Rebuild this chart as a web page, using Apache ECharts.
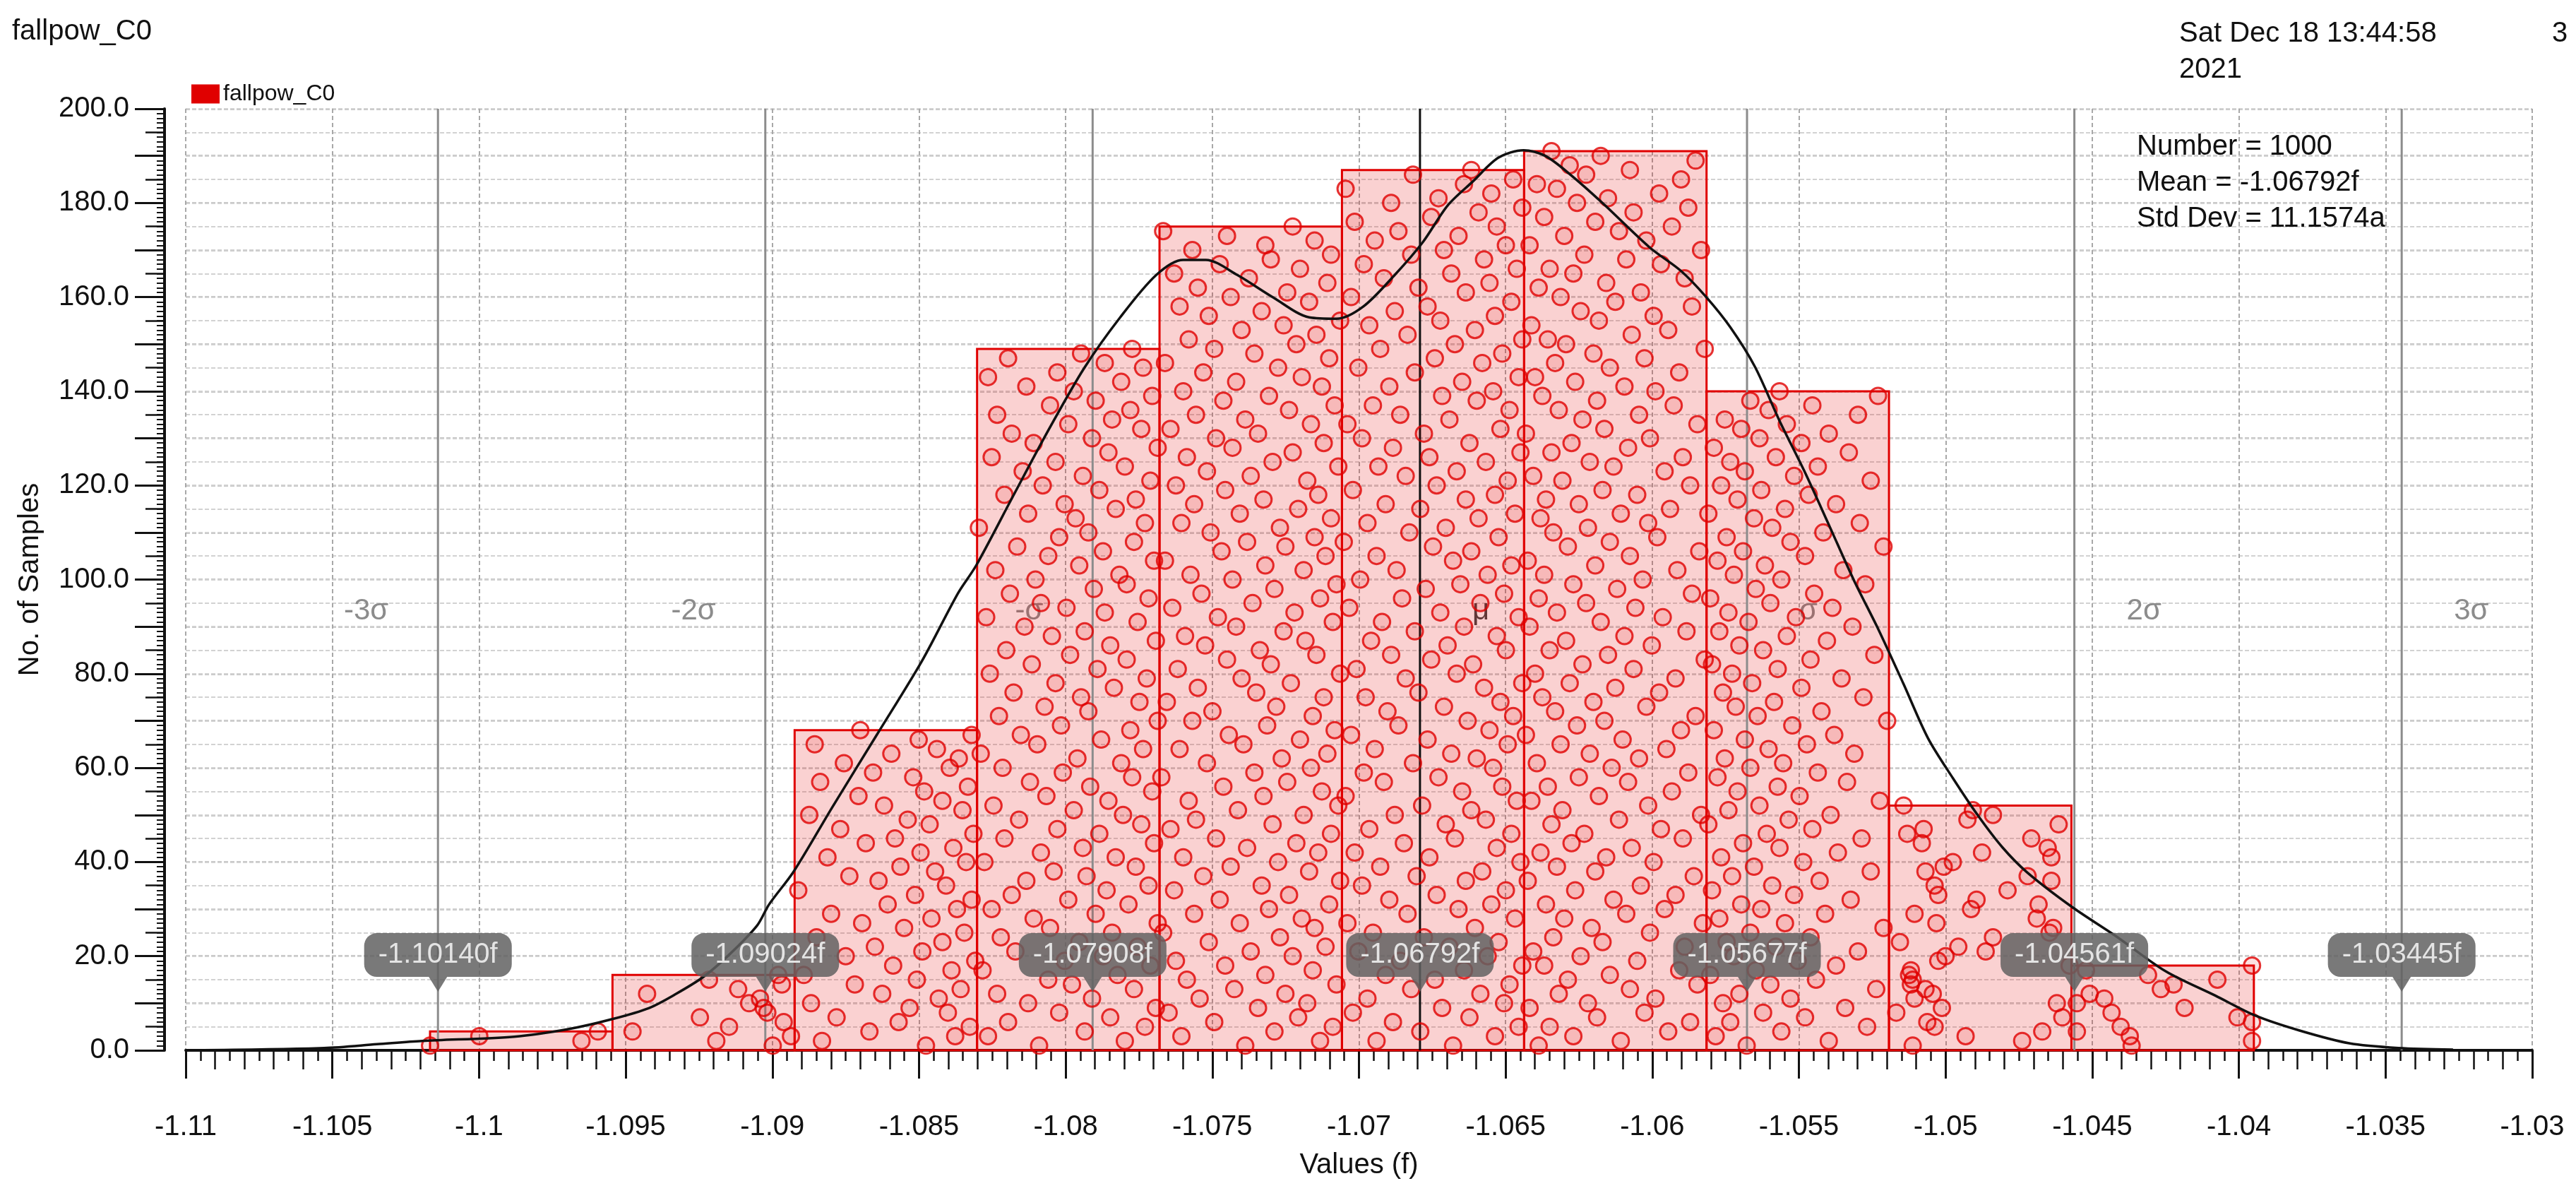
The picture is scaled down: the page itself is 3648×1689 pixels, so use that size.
<!DOCTYPE html>
<html>
<head>
<meta charset="utf-8">
<title>fallpow_C0</title>
<script src="https://cdn.jsdelivr.net/npm/echarts@6.0.0/dist/echarts.min.js"></script>
<style>
  html, body { margin: 0; padding: 0; background: #fff; }
  #chart { width: 3648px; height: 1689px; }
</style>
</head>
<body>
<div id="chart"></div>
<script>
// ---- data ----
const binEdges = [-1.10167, -1.09545, -1.08924, -1.08302, -1.07680, -1.07058,
  -1.06437, -1.05815, -1.05193, -1.04571, -1.03949]
const binCounts = [4, 16, 68, 149, 175, 187, 191, 140, 52, 18]

// sample positions inside each bin (percent of bin width), listed by rank 1..N (rank = y)
const bin1Frac = [0, 83, 27, 92]
const bin2Frac = [88, 57, 98, 11, 64, 94, 48, 85, 83, 75, 81, 19, 69, 93, 53, 91]
const bin3Frac = [72, 15, 88, 41, 96, 57, 23, 84, 63, 9, 79, 48, 91, 33, 67, 5, 86, 54, 99, 28,
  70, 44, 81, 12, 93, 60, 37, 75, 20, 89, 51, 97, 66, 2, 83, 46, 30, 77, 58, 94,
  18, 69, 87, 39, 55, 98, 25, 74, 62, 8, 92, 49, 81, 35, 71, 95, 14, 65, 43, 85,
  27, 90, 53, 78, 11, 68, 97, 36]
const bin4Frac = [34, 81, 6, 59, 92, 17, 73, 45, 98, 28, 63, 11, 86, 52, 39, 77, 3, 95, 48, 69,
  21, 88, 56, 13, 74, 40, 99, 31, 65, 8, 83, 50, 19, 71, 94, 27, 60, 42, 87, 4,
  76, 35, 58, 97, 15, 67, 44, 90, 23, 80, 53, 9, 72, 38, 96, 62, 29, 85, 47, 14,
  79, 55, 2, 91, 33, 68, 24, 84, 46, 99, 12, 61, 37, 89, 57, 20, 75, 43, 93, 7,
  66, 30, 82, 51, 16, 73, 98, 41, 59, 26, 88, 5, 70, 49, 35, 94, 18, 64, 82, 32,
  78, 10, 56, 97, 39, 69, 22, 86, 45, 61, 1, 92, 54, 28, 76, 48, 87, 15, 67, 36,
  95, 58, 25, 81, 43, 8, 72, 99, 31, 63, 19, 90, 50, 74, 11, 84, 40, 65, 96,
  53, 27, 79, 6, 44, 91, 70, 17, 57, 85]
const bin5Frac = [47, 88, 12, 63, 95, 30, 76, 5, 54, 81, 22, 69, 41, 97, 15, 58, 84, 36, 9, 73,
  50, 91, 27, 66, 2, 85, 44, 78, 19, 60, 93, 33, 71, 8, 56, 99, 24, 82, 39, 65,
  13, 87, 48, 75, 31, 94, 6, 62, 20, 79, 43, 98, 16, 57, 89, 35, 70, 1, 52, 83,
  26, 67, 92, 11, 46, 77, 38, 96, 59, 18, 84, 29, 64, 4, 90, 53, 21, 72, 45, 99,
  10, 61, 37, 86, 55, 25, 80, 14, 68, 42, 95, 32, 74, 7, 51, 88, 23, 63, 97, 40,
  17, 79, 58, 3, 91, 34, 69, 48, 85, 28, 66, 12, 94, 44, 76, 19, 57, 87, 36, 9,
  81, 50, 26, 98, 62, 15, 73, 40, 90, 31, 54, 6, 83, 47, 20, 71, 96, 35, 60, 13,
  89, 42, 78, 24, 65, 3, 93, 52, 30, 75, 16, 86, 45, 68, 99, 27, 56, 11, 82, 39,
  70, 21, 92, 49, 8, 77, 33, 61, 94, 18, 58, 85, 37, 2, 73]
const bin6Frac = [61, 19, 84, 43, 97, 28, 70, 6, 55, 89, 14, 76, 38, 92, 51, 24, 67, 99, 32, 80,
  9, 59, 86, 45, 17, 73, 3, 95, 36, 64, 82, 26, 52, 90, 11, 68, 41, 77, 21, 98,
  48, 7, 85, 34, 62, 93, 15, 57, 79, 29, 71, 44, 96, 2, 66, 88, 23, 53, 12, 83,
  39, 74, 60, 18, 91, 47, 5, 81, 31, 69, 94, 25, 56, 87, 13, 42, 78, 99, 35, 63,
  8, 72, 49, 27, 90, 58, 16, 85, 40, 67, 22, 97, 54, 4, 76, 33, 89, 46, 65, 10,
  80, 30, 93, 61, 19, 71, 50, 1, 86, 37, 57, 14, 75, 95, 43, 24, 68, 84, 6, 52,
  91, 35, 63, 20, 79, 48, 98, 28, 70, 11, 45, 87, 3, 59, 32, 92, 17, 74, 55, 83,
  26, 66, 97, 40, 9, 77, 51, 88, 21, 62, 99, 36, 73, 15, 54, 84, 29, 47, 93, 5,
  68, 42, 81, 23, 60, 96, 12, 78, 38, 56, 90, 18, 64, 31, 85, 7, 49, 75, 99, 27,
  53, 82, 2, 67, 94, 39, 71]
const bin7Frac = [8, 53, 27, 79, 14, 91, 40, 66, 3, 35, 72, 19, 58, 95, 24, 47, 85, 11, 62, 31,
  5, 88, 43, 16, 69, 37, 98, 22, 56, 77, 12, 49, 83, 28, 64, 2, 93, 39, 18, 71,
  45, 9, 59, 26, 87, 33, 75, 15, 52, 97, 21, 68, 4, 41, 81, 13, 57, 30, 90, 48,
  7, 63, 36, 78, 20, 54, 1, 86, 29, 44, 94, 17, 67, 38, 10, 74, 50, 25, 83, 6,
  60, 32, 99, 46, 14, 70, 23, 55, 89, 3, 42, 76, 18, 61, 34, 8, 92, 51, 27, 65,
  11, 84, 39, 2, 58, 96, 24, 47, 73, 16, 35, 68, 9, 53, 80, 30, 12, 62, 43, 91,
  21, 5, 77, 49, 36, 87, 15, 57, 26, 69, 1, 44, 95, 32, 63, 19, 82, 40, 10, 72,
  55, 28, 6, 85, 47, 17, 66, 38, 99, 23, 13, 59, 79, 4, 41, 71, 31, 92, 50, 20,
  64, 8, 45, 88, 27, 14, 75, 56, 33, 97, 3, 67, 22, 52, 81, 39, 11, 60, 90, 29,
  46, 74, 18, 7, 86, 34, 58, 25, 94, 42, 15]
const bin8Frac = [22, 67, 5, 41, 88, 13, 54, 31, 76, 9, 46, 18, 93, 35, 60, 2, 27, 71, 50, 15,
  83, 38, 11, 57, 24, 97, 43, 7, 65, 30, 19, 79, 48, 3, 36, 62, 14, 90, 26, 53,
  8, 72, 40, 20, 85, 33, 58, 1, 45, 68, 12, 29, 95, 51, 17, 39, 77, 6, 61, 24,
  42, 10, 81, 34, 55, 21, 70, 4, 47, 99, 28, 63, 16, 37, 86, 9, 52, 25, 74, 14,
  39, 3, 57, 92, 31, 18, 66, 44, 7, 80, 23, 49, 12, 69, 35, 2, 59, 27, 87, 41,
  15, 75, 32, 6, 54, 20, 97, 46, 11, 64, 36, 84, 26, 1, 43, 71, 17, 56, 30, 8,
  90, 48, 21, 61, 13, 38, 78, 4, 52, 29, 67, 19, 44, 10, 83, 34, 58, 24, 94, 40]
const bin9Frac = [13, 73, 42, 84, 25, 21, 95, 4, 29, 92, 14, 24, 20, 12, 13, 11, 12, 99, 27, 31,
  53, 38, 6, 57, 88, 90, 26, 81, 14, 45, 82, 48, 27, 65, 25, 89, 76, 20, 30, 35,
  89, 51, 87, 18, 78, 10, 19, 93, 43, 57, 46, 8]
const bin10Frac = [33, 99, 32, 3, 27, 99, 91, 22, 62, 3, 18, 10, 49, 56, 80, 42, 8, 99]

// fitted density curve
const curveX = [-1.10939, -1.10528, -1.10348, -1.10194, -1.0988, -1.09696, -1.09548, -1.0942,
  -1.09328, -1.09235, -1.09144, -1.09052, -1.09011, -1.08927, -1.08796, -1.08643, -1.0849,
  -1.08367, -1.08305, -1.08182, -1.08059, -1.07937, -1.07814, -1.07691, -1.07599, -1.07522,
  -1.07415, -1.07292, -1.0717, -1.07077, -1.06985, -1.06878, -1.06783, -1.06697, -1.06611,
  -1.06525, -1.06439, -1.06365, -1.06279, -1.0617, -1.0601, -1.05903, -1.05816, -1.05734,
  -1.0565, -1.05566, -1.05482, -1.05397, -1.05313, -1.05229, -1.05144, -1.0506, -1.04975,
  -1.04891, -1.04806, -1.04722, -1.0457, -1.04418, -1.0425, -1.0408, -1.03945, -1.03793,
  -1.03624, -1.03456, -1.0327]
const curveY = [0.05, 0.5, 1.3, 2.0, 2.9, 4.5, 6.6, 9, 12, 15.6, 20.5, 26.5, 31, 38, 51.6, 67.1,
  82.7, 97.1, 103, 117.4, 131.7, 144.9, 155.7, 164.7, 167.9, 167.9, 164.7, 159.9, 155.7, 155.4,
  158, 164.7, 171.6, 179.5, 184.6, 189.6, 191.2, 190, 186, 180, 170.6, 165.6, 160, 153.6, 145.2,
  133.7, 123.1, 111.5, 99.9, 89.4, 77.9, 66.3, 57.8, 50, 43.1, 37.8, 30.5, 24.2, 16.8, 11.6, 7.4,
  4.2, 1.5, 0.5, 0.15]

// sigma markers
const sigmaValues = [-1.10140, -1.09024, -1.07908, -1.06792, -1.05677, -1.04561, -1.03445]
const sigmaNames = ['-3σ', '-2σ', '-σ', 'μ', 'σ', '2σ', '3σ']
const sigmaTexts = ['-1.10140f', '-1.09024f', '-1.07908f', '-1.06792f', '-1.05677f', '-1.04561f', '-1.03445f']
const meanIndex = 3

const statsLines = ['Number = 1000', 'Mean = -1.06792f', 'Std Dev = 11.1574a']

// ---- build ----
const FONT = '"Liberation Sans", Arial, sans-serif'
const binFracs = [bin1Frac, bin2Frac, bin3Frac, bin4Frac, bin5Frac, bin6Frac, bin7Frac, bin8Frac, bin9Frac, bin10Frac]

const histData = binCounts.map((c, i) => [binEdges[i], binEdges[i + 1], c])
const points = []
binFracs.forEach((fr, b) => {
  const x0 = binEdges[b]
  const w = binEdges[b + 1] - x0
  fr.forEach((f, k) => points.push([x0 + f / 100 * w, k + 1]))
})
const curveData = curveX.map((x, i) => [x, curveY[i]])
const sigmaData = sigmaValues.map((v, i) => [v, i])

const chart = echarts.init(document.getElementById('chart'), null, { renderer: 'canvas' })

const labelY = 93.2   // height of the sigma names
const boxY = 20.25    // height of the value boxes

chart.setOption({
  backgroundColor: '#fff',
  animation: false,
  textStyle: { fontFamily: FONT },
  title: {
    text: 'fallpow_C0',
    left: 12,
    top: 20,
    textStyle: { fontSize: 40, fontWeight: 'normal', color: '#111', fontFamily: FONT }
  },
  legend: {
    data: [{ name: 'fallpow_C0', icon: 'rect' }],
    left: 266,
    top: 112,
    itemWidth: 40,
    itemHeight: 27,
    textStyle: { fontSize: 32, color: '#111', fontFamily: FONT }
  },
  graphic: [
    {
      type: 'text', left: 3086, top: 22,
      style: { text: 'Sat Dec 18 13:44:58\n2021', fontSize: 40, lineHeight: 51, fill: '#111', fontFamily: FONT }
    },
    {
      type: 'text', left: 3614, top: 22,
      style: { text: '3', fontSize: 40, lineHeight: 51, fill: '#111', fontFamily: FONT }
    },
    {
      type: 'text', left: 3026, top: 182, z: 100,
      style: { text: statsLines.join('\n'), fontSize: 40, lineHeight: 51, fill: '#111', fontFamily: FONT }
    }
  ],
  grid: { left: 263, right: 62, top: 154, bottom: 202 },
  xAxis: [
    {
      type: 'value', position: 'bottom', min: -1.11, max: -1.03, interval: 0.005, offset: 23,
      name: 'Values (f)', nameLocation: 'middle', nameGap: 120,
      nameTextStyle: { fontSize: 40, color: '#111', fontFamily: FONT },
      axisLine: { show: true, lineStyle: { color: '#111', width: 4 } },
      axisTick: { show: true, length: 40, lineStyle: { color: '#111', width: 3 } },
      minorTick: { show: true, splitNumber: 10, length: 15, lineStyle: { color: '#111', width: 2.5 } },
      axisLabel: {
        fontSize: 40, color: '#111', margin: 66, fontFamily: FONT,
        formatter: v => String(parseFloat(v.toFixed(3)))
      },
      splitLine: { show: true, lineStyle: { color: '#a8a8a8', width: 2, type: [6, 4] } }
    },
    {
      type: 'value', position: 'bottom', min: -1.11, max: -1.03, interval: 0.001, offset: 23,
      axisLine: { show: false },
      axisTick: { show: true, length: 27, lineStyle: { color: '#111', width: 2.5 } },
      axisLabel: { show: false },
      splitLine: { show: false }
    }
  ],
  yAxis: [
    {
      type: 'value', position: 'left', min: 0, max: 200, interval: 10, offset: 30,
      name: 'No. of Samples', nameLocation: 'middle', nameGap: 170,
      nameTextStyle: { fontSize: 40, color: '#111', fontFamily: FONT },
      axisLine: { show: true, lineStyle: { color: '#111', width: 4 } },
      axisTick: { show: true, length: 42, lineStyle: { color: '#111', width: 3 } },
      minorTick: { show: true, splitNumber: 10, length: 11, lineStyle: { color: '#111', width: 2 } },
      axisLabel: {
        fontSize: 40, color: '#111', margin: 50, fontFamily: FONT,
        formatter: v => (Math.round(v) % 20 === 0 ? v.toFixed(1) : '')
      },
      splitLine: { show: true, lineStyle: { color: '#b4b4b4', width: 2.5, type: [6, 3] } }
    },
    {
      type: 'value', position: 'left', min: 0, max: 200, interval: 5, offset: 30,
      axisLine: { show: false },
      axisTick: { show: true, length: 27, lineStyle: { color: '#111', width: 2.5 } },
      axisLabel: { show: false },
      splitLine: { show: true, lineStyle: { color: '#d2d2d2', width: 2, type: [6, 3] } }
    }
  ],
  series: [
    {
      // sigma names, drawn under the bars
      name: 'sigmaNames', type: 'custom', z: 1, silent: true,
      data: sigmaData, encode: { x: 0, y: 1 },
      renderItem(params, api) {
        const i = params.dataIndex
        const p = api.coord([api.value(0), labelY])
        const neg = i < meanIndex
        return {
          type: 'text', x: p[0] + (neg ? -70 : 74), y: p[1],
          style: {
            text: sigmaNames[i], fontSize: 42, fontFamily: FONT,
            fill: i === meanIndex ? '#444' : '#8c8c8c',
            align: neg ? 'right' : 'left', verticalAlign: 'middle'
          }
        }
      }
    },
    {
      name: 'fallpow_C0', type: 'custom', z: 2,
      itemStyle: { color: '#e00000' },
      data: histData, encode: { x: [0, 1], y: 2 },
      renderItem(params, api) {
        const a = api.coord([api.value(0), api.value(2)])
        const b = api.coord([api.value(1), 0])
        return {
          type: 'rect',
          shape: { x: a[0], y: a[1], width: b[0] - a[0], height: b[1] - a[1] },
          style: { fill: 'rgba(230,0,0,0.18)', stroke: '#e00000', lineWidth: 3 }
        }
      }
    },
    {
      name: 'sigmaLines', type: 'custom', z: 3, silent: true,
      data: sigmaData, encode: { x: 0, y: 1 },
      renderItem(params, api) {
        const i = params.dataIndex
        const a = api.coord([api.value(0), 0])
        const b = api.coord([api.value(0), 200])
        return {
          type: 'line',
          shape: { x1: a[0], y1: a[1], x2: b[0], y2: b[1] },
          style: { stroke: i === meanIndex ? '#111' : '#8c8c8c', lineWidth: 3 }
        }
      }
    },
    {
      name: 'samples', type: 'scatter', z: 4,
      symbol: 'circle', symbolSize: 23,
      itemStyle: { color: 'rgba(230,0,0,0.14)', borderColor: '#e00000', borderWidth: 3 },
      data: points
    },
    {
      name: 'density', type: 'line', z: 5,
      showSymbol: false, smooth: 0.3,
      lineStyle: { color: '#111', width: 3.5 },
      data: curveData
    },
    {
      name: 'sigmaValues', type: 'custom', z: 6, silent: true,
      data: sigmaData, encode: { x: 0, y: 1 },
      renderItem(params, api) {
        const i = params.dataIndex
        const p = api.coord([api.value(0), boxY])
        const fill = 'rgba(98,98,98,0.85)'
        return {
          type: 'group',
          children: [
            {
              type: 'text', x: p[0], y: p[1],
              style: {
                text: sigmaTexts[i], fontSize: 40, fontFamily: FONT, fill: '#e4e4e4',
                align: 'center', verticalAlign: 'middle',
                backgroundColor: fill, padding: [11, 20], borderRadius: 18
              }
            },
            {
              type: 'polygon',
              shape: { points: [[p[0] - 13, p[1] + 31], [p[0] + 13, p[1] + 31], [p[0], p[1] + 52]] },
              style: { fill: fill }
            }
          ]
        }
      }
    }
  ]
})
</script>
</body>
</html>
